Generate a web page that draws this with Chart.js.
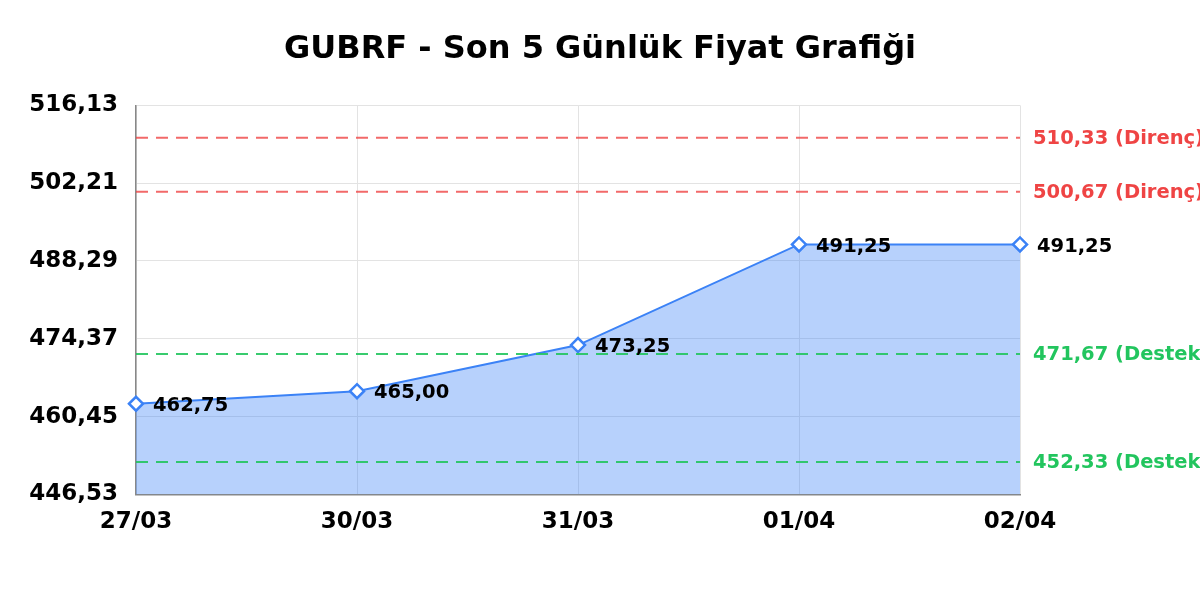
<!DOCTYPE html>
<html>
<head>
<meta charset="utf-8">
<script src="https://cdn.jsdelivr.net/npm/chart.js@4.4.0/dist/chart.umd.min.js"></script>
<style>
  html, body { margin: 0; padding: 0; background: #fff; }
  #wrap { width: 1200px; height: 600px; }
</style>
</head>
<body>
<div id="wrap"><canvas id="priceChart"></canvas></div>
<script>
// Veriler
const dates = ['27/03', '30/03', '31/03', '01/04', '02/04'];
const prices = [462.75, 465.00, 473.25, 491.25, 491.25];
const yTicks = [446.53, 460.45, 474.37, 488.29, 502.21, 516.13];
const resistance = [510.33, 500.67];
const support = [471.67, 452.33];

const fmt = v => v.toFixed(2).replace('.', ',');

// Destek / direnç çizgileri ve etiketleri
const levelLines = {
    id: 'levelLines',
    afterDatasetsDraw(chart) {
        const { ctx, chartArea, scales: { y } } = chart;
        const levels = resistance.map(v => ({ v, color: 'rgba(239,68,68,0.8)', text: 'Direnç', tc: '#ef4444' }))
            .concat(support.map(v => ({ v, color: 'rgba(34,197,94,0.9)', text: 'Destek', tc: '#22c55e' })));
        ctx.save();
        levels.forEach(l => {
            const py = y.getPixelForValue(l.v);
            ctx.beginPath();
            ctx.setLineDash([12, 8]);
            ctx.lineWidth = 2;
            ctx.strokeStyle = l.color;
            ctx.moveTo(chartArea.left, py);
            ctx.lineTo(chartArea.right, py);
            ctx.stroke();
            ctx.setLineDash([]);
            ctx.fillStyle = l.tc;
            ctx.font = 'bold 19.5px "DejaVu Sans"';
            ctx.textBaseline = 'middle';
            ctx.textAlign = 'left';
            ctx.fillText(fmt(l.v) + ' (' + l.text + ')', chartArea.right + 13, py + 1);
        });
        ctx.restore();
    }
};

// Nokta etiketleri
const pointLabels = {
    id: 'pointLabels',
    afterDatasetsDraw(chart) {
        const { ctx } = chart;
        const meta = chart.getDatasetMeta(0);
        ctx.save();
        ctx.font = 'bold 19.5px "DejaVu Sans"';
        ctx.fillStyle = '#000';
        ctx.textBaseline = 'middle';
        ctx.textAlign = 'left';
        meta.data.forEach((pt, i) => {
            ctx.fillText(fmt(prices[i]), pt.x + 17, pt.y + 2);
        });
        ctx.restore();
    }
};

new Chart(document.getElementById('priceChart'), {
    type: 'line',
    data: {
        labels: dates,
        datasets: [{
            data: prices,
            borderColor: '#3b82f6',
            borderWidth: 2,
            backgroundColor: 'rgba(59,130,246,0.37)',
            fill: 'start',
            tension: 0,
            pointStyle: 'rectRot',
            pointRadius: 7,
            pointBorderWidth: 2.5,
            pointBackgroundColor: '#fff',
            pointBorderColor: '#3b82f6'
        }]
    },
    options: {
        responsive: true,
        maintainAspectRatio: false,
        animation: false,
        layout: { padding: { left: 0, right: 0, top: 14, bottom: 50 } },
        plugins: {
            legend: { display: false },
            tooltip: { enabled: false },
            title: {
                display: true,
                text: 'GUBRF - Son 5 Günlük Fiyat Grafiği',
                color: '#000',
                font: { family: '"DejaVu Sans"', size: 32, weight: 'bold' },
                padding: { top: 16, bottom: 37 }
            }
        },
        scales: {
            x: {
                offset: false,
                grid: { color: '#e3e3e3', drawTicks: false },
                border: { color: '#888', width: 1.5 },
                ticks: {
                    color: '#000',
                    padding: 14,
                    maxRotation: 0,
                    font: { family: '"DejaVu Sans"', size: 23, weight: 'bold' }
                }
            },
            y: {
                min: yTicks[0],
                max: yTicks[yTicks.length - 1],
                afterBuildTicks: axis => { axis.ticks = yTicks.map(v => ({ value: v })); },
                afterFit: axis => { axis.width = 136; },
                grid: { color: '#e3e3e3', drawTicks: false },
                border: { color: '#888', width: 1.5 },
                ticks: {
                    color: '#000',
                    padding: 18,
                    callback: v => fmt(v),
                    font: { family: '"DejaVu Sans"', size: 23, weight: 'bold' }
                }
            },
            yR: {
                position: 'right',
                min: yTicks[0],
                max: yTicks[yTicks.length - 1],
                afterFit: axis => { axis.width = 180; },
                grid: { display: false },
                border: { display: false },
                ticks: { display: false }
            }
        }
    },
    plugins: [levelLines, pointLabels]
});
</script>
</body>
</html>
